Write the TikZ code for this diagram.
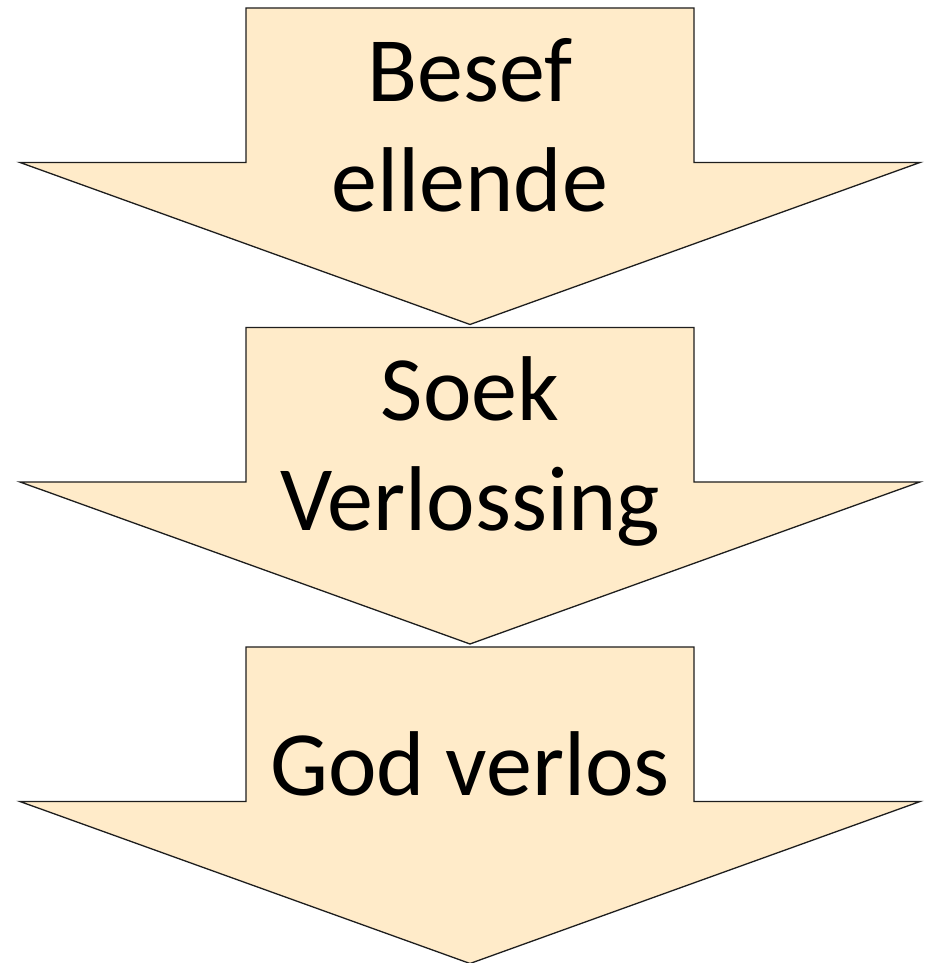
\documentclass[tikz,border=0pt]{standalone}
\usepackage{fontspec}
\setmainfont{Carlito}
\definecolor{peach}{RGB}{255,235,201}
\definecolor{edge}{RGB}{30,30,30}
\begin{document}
\begin{tikzpicture}[x=1pt,y=1pt,
  arrowshape/.style={fill=peach,draw=edge,line width=1.3pt,line join=miter},
  label/.style={font=\fontsize{92}{110}\selectfont,anchor=base,inner sep=0pt,text=black}]
\useasboundingbox (0,0) rectangle (926,963);
% arrow 1 (top y=8 px)
\foreach \t [count=\i] in {8,327.5,647}{
  \draw[arrowshape] (246,963-\t) -- (694,963-\t) -- (694,963-\t-154.5) -- (920,963-\t-154.5)
     -- (470,963-\t-316.5) -- (20,963-\t-154.5) -- (246,963-\t-154.5) -- cycle;
}
\node[label] (l1a) at (470,963-102) {Besef};
\node[label] (l1b) at (470,963-212) {ellende};
\node[label] (l2a) at (470,963-421) {Soek};
\node[label] (l2b) at (470,963-531) {Verlossing};
\node[label] (l3a) at (470,963-796) {God verlos};
\end{tikzpicture}
\end{document}
